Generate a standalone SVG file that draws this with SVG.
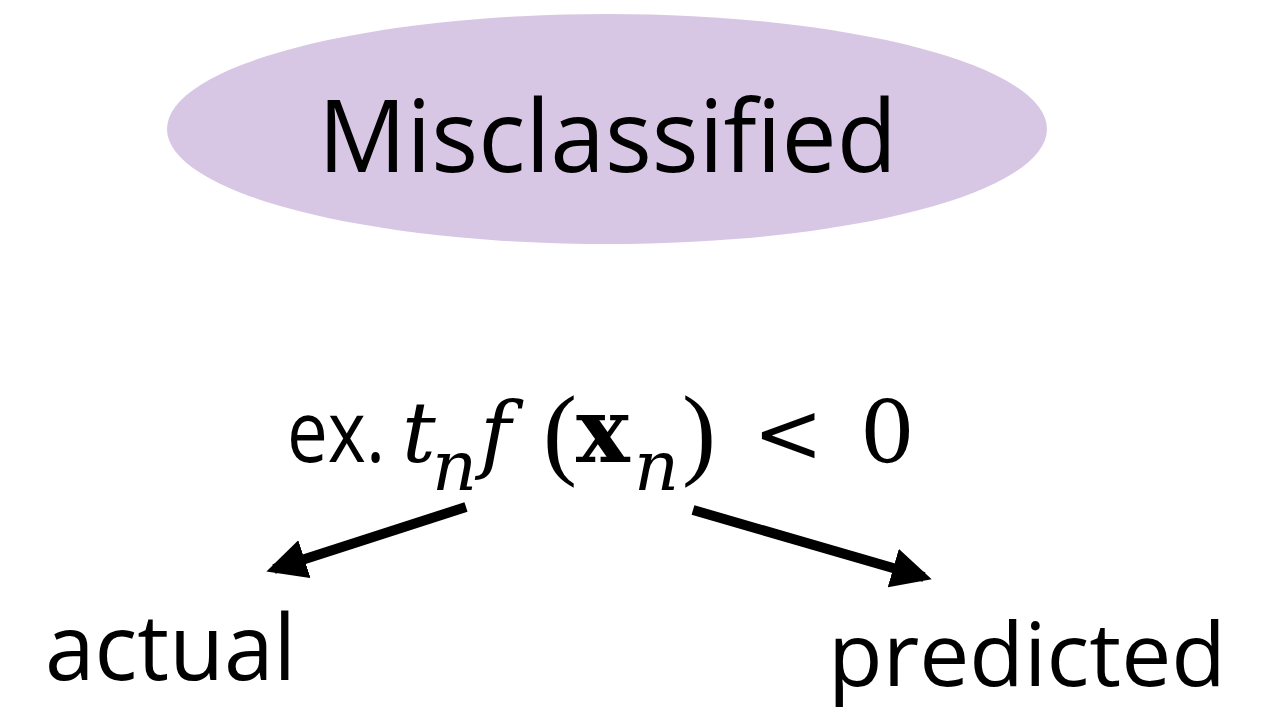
<svg xmlns="http://www.w3.org/2000/svg" width="1268" height="710" viewBox="0 0 1268 710">
<style>
.sans{font-family:"Open Sans","Noto Sans",sans-serif;fill:#000}
.math{font-family:"DejaVu Serif","Liberation Serif",serif;fill:#000}
.paren{font-family:"Liberation Serif","DejaVu Serif",serif}
.arrow{stroke:#000;stroke-width:10;fill:none}
</style>
<defs>
<marker id="ah" markerWidth="4" markerHeight="4" refX="3.2" refY="2" orient="auto" markerUnits="strokeWidth">
<path d="M0,0 L4,2 L0,4 Z" fill="#000"/>
</marker>
</defs>
<rect width="1268" height="710" fill="#fff"/>
<g id="node-misclassified">
<ellipse cx="607" cy="129" rx="440" ry="115" fill="#d8c7e4"/>
<text class="sans" x="318" y="172" font-size="100" textLength="579" lengthAdjust="spacingAndGlyphs">Misclassified</text>
</g>
<g id="node-formula">
<text class="sans" x="287" y="462" font-size="86" textLength="98" lengthAdjust="spacingAndGlyphs">ex.</text>
<text class="math" font-size="84" y="462">
<tspan x="402" font-style="italic">t</tspan><tspan x="432" y="490" font-style="italic" font-size="70">n</tspan><tspan x="480" y="462" font-style="italic">f</tspan><tspan class="paren" x="543" y="466" font-size="102">(</tspan><tspan x="576" y="462" font-weight="bold" font-size="90">x</tspan><tspan x="634" y="490" font-style="italic" font-size="70">n</tspan><tspan class="paren" x="682" y="466" font-size="102">)</tspan><tspan x="753" y="462">&lt;</tspan><tspan x="860" font-size="86">0</tspan>
</text>
</g>
<g id="node-actual">
<text class="sans" x="45" y="680" font-size="92" textLength="251" lengthAdjust="spacingAndGlyphs">actual</text>
</g>
<g id="node-predicted">
<text class="sans" x="828" y="686" font-size="88" textLength="398" lengthAdjust="spacingAndGlyphs">predicted</text>
</g>
<g id="connectors">
<line class="arrow" x1="466" y1="507" x2="274" y2="569" marker-end="url(#ah)"/>
<line class="arrow" x1="693" y1="510" x2="924" y2="577" marker-end="url(#ah)"/>
</g>
</svg>
